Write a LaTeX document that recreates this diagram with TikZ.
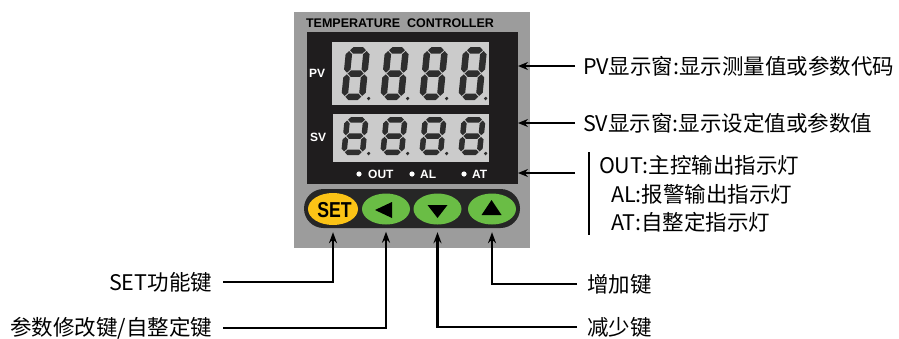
\documentclass[tikz,border=0pt]{standalone}
\usepackage{fontspec}
\setmainfont{Noto Sans CJK SC}
\newfontfamily\arialf{Liberation Sans}
\usetikzlibrary{arrows.meta,shapes.geometric}
\definecolor{panelgray}{HTML}{9C9C9C}
\definecolor{lcdgray}{HTML}{CBCBCB}
\definecolor{blk}{HTML}{1F1D1E}
\definecolor{barc}{HTML}{262626}
\definecolor{setyel}{HTML}{FBC316}
\definecolor{btngreen}{HTML}{6ABD45}
\definecolor{segc}{HTML}{2E2E2E}
\newcommand\hseg[3]{\fill[segc] (#2+\sg,#1) -- (#2+\sg+\hT,#1+\hT) -- (#3-\sg-\hT,#1+\hT) -- (#3-\sg,#1) -- (#3-\sg-\hT,#1-\hT) -- (#2+\sg+\hT,#1-\hT) -- cycle;}
\newcommand\vseg[3]{\fill[segc] (#1,#2+\sg) -- (#1+\hT,#2+\sg+\hT) -- (#1+\hT,#3-\sg-\hT) -- (#1,#3-\sg) -- (#1-\hT,#3-\sg-\hT) -- (#1-\hT,#2+\sg+\hT) -- cycle;}
\newcommand\lcddigit[5]{%
\begin{scope}[shift={(#1,#2)},x=1pt,y=1pt,xslant=0.1]
\pgfmathsetmacro\dW{#3}\pgfmathsetmacro\dH{#4}\pgfmathsetmacro\hT{#5/2}\def\sg{0.8}
\pgfmathsetmacro\xl{\hT}\pgfmathsetmacro\xr{\dW-\hT}\pgfmathsetmacro\yb{\hT}\pgfmathsetmacro\ym{\dH/2}\pgfmathsetmacro\yt{\dH-\hT}
\hseg{\yt}{\xl}{\xr}\hseg{\ym}{\xl}{\xr}\hseg{\yb}{\xl}{\xr}
\vseg{\xl}{\yb}{\ym}\vseg{\xl}{\ym}{\yt}\vseg{\xr}{\yb}{\ym}\vseg{\xr}{\ym}{\yt}
\fill[segc] (\dW+3.5,1.5) circle (1.8);
\end{scope}}
\begin{document}
\begin{tikzpicture}[x=1pt,y=-1pt,
  box/.style={inner sep=0,outer sep=0,anchor=north west},
  lbl/.style={inner sep=0,outer sep=0,font=\fontsize{21.5}{21.5}\selectfont,text=black},
  panelfont/.style={inner sep=0,text=white,font=\arialf\bfseries\fontsize{12}{12}\selectfont},
  rarr/.style={-{Stealth[length=10pt,width=8pt]},line width=1.4pt},
  barr/.style={-{Stealth[length=11pt,width=8pt]},line width=2.4pt},
  btn/.style={ellipse,inner sep=0,minimum width=48pt,minimum height=31pt,fill=btngreen}]
\useasboundingbox (0,0) rectangle (899,338);
% panel
\node[box,fill=panelgray,minimum width=236pt,minimum height=236pt] (panel) at (294,12) {};
\node[inner sep=0,font=\arialf\bfseries\fontsize{12.5}{12.5}\selectfont] (title) at (400,23) {TEMPERATURE\ \ CONTROLLER};
\node[box,fill=blk,minimum width=211pt,minimum height=152pt] (blk) at (307,32) {};
\node[box,fill=lcdgray,minimum width=157pt,minimum height=63pt] (pvlcd) at (332,42) {};
\node[box,fill=lcdgray,minimum width=156pt,minimum height=48pt] (svlcd) at (333,114) {};
\node[panelfont] (pvtag) at (317,73) {PV};
\node[panelfont] (svtag) at (318,137) {SV};
% digits
\foreach \i in {0,1,2,3}{
  \lcddigit{341+39*\i}{100}{24}{53}{6.5}
  \lcddigit{341+39*\i}{155}{24}{38}{5.5}
}
% indicators
\fill[white] (359,174) circle (2.6);
\fill[white] (412,174) circle (2.6);
\fill[white] (464,174) circle (2.6);
\node[panelfont,anchor=west] (outtag) at (368,174) {OUT};
\node[panelfont,anchor=west] (altag) at (420,174) {AL};
\node[panelfont,anchor=west] (attag) at (472,174) {AT};
% buttons
\node[inner sep=0,fill=barc,minimum width=216pt,minimum height=39pt,rounded corners=19.5pt] (bar) at (412,208.5) {};
\node[ellipse,inner sep=0,minimum width=50pt,minimum height=32pt,fill=setyel] (setbtn) at (333,209) {};
\node[inner sep=0,font=\arialf\bfseries\fontsize{18}{18}\selectfont] (settxt) at (334.5,210) {\scalebox{0.98}[1.2]{SET}};
\node[btn] (lbtn) at (386,209) {};
\node[btn] (dbtn) at (437.5,209) {};
\node[btn] (ubtn) at (492,209) {};
\fill[black] ([xshift=-11pt,yshift=-1pt]lbtn.center) -- ([xshift=6pt,yshift=7pt]lbtn.center) -- ([xshift=6pt,yshift=-9pt]lbtn.center) -- cycle;
\fill[black] ([xshift=-10pt,yshift=4pt]dbtn.center) -- ([xshift=10pt,yshift=4pt]dbtn.center) -- ([yshift=-9pt]dbtn.center) -- cycle;
\fill[black] ([xshift=-10.5pt,yshift=-6pt]ubtn.center) -- ([xshift=9.5pt,yshift=-6pt]ubtn.center) -- ([xshift=-0.5pt,yshift=9pt]ubtn.center) -- cycle;
% right labels
\node[lbl,anchor=west] (pvlbl) at (583,66) {PV显示窗:显示测量值或参数代码};
\node[lbl,anchor=west] (svlbl) at (583,123) {SV显示窗:显示设定值或参数值};
\node[lbl,anchor=west] (outlbl) at (599,165) {OUT:主控输出指示灯};
\node[lbl,anchor=west] (allbl) at (611,194) {AL:报警输出指示灯};
\node[lbl,anchor=west] (atlbl) at (611,222) {AT:自整定指示灯};
\draw[line width=2.6pt] (589,152) -- (589,235);
\coordinate (ledstart) at (575,173);
\draw[rarr] ([xshift=-8pt]pvlbl.west) -- (pvlbl.west -| blk.east);
\draw[rarr] ([xshift=-8pt]svlbl.west) -- (svlbl.west -| blk.east);
\draw[rarr] (ledstart) -- (ledstart -| blk.east);
% bottom labels
\node[lbl,anchor=east] (setlbl) at (212,282) {SET功能键};
\node[lbl,anchor=east] (parlbl) at (212,328) {参数修改键/自整定键};
\node[lbl,anchor=west] (inclbl) at (587,284) {增加键};
\node[lbl,anchor=west] (declbl) at (587,327) {减少键};
\draw[barr] ([xshift=11pt]setlbl.east) -| ([yshift=-7pt]setbtn.south);
\draw[barr] ([xshift=11pt]parlbl.east) -| ([yshift=-7pt]lbtn.south);
\draw[barr] ([xshift=-10pt]declbl.west) -| ([yshift=-7.5pt]dbtn.south);
\draw[barr] ([xshift=-10pt]inclbl.west) -| ([yshift=-7.5pt]ubtn.south);
\end{tikzpicture}
\end{document}
